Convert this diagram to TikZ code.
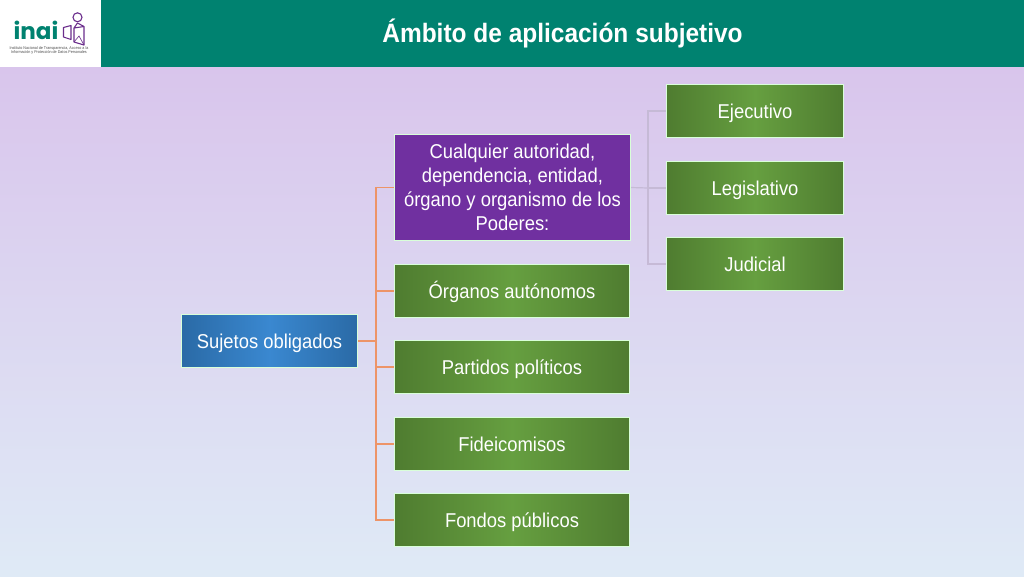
\documentclass[tikz,border=0pt]{standalone}
\usepackage{fontspec}
\setmainfont{Liberation Sans}[FakeStretch=0.92]
\newfontfamily\logofont{Poppins}
\definecolor{inaigreen}{HTML}{008270}
\definecolor{inaipurple}{HTML}{6B2D8C}
\definecolor{boxpurple}{HTML}{7030A0}
\definecolor{branchorange}{HTML}{ED9468}
\definecolor{branchgray}{HTML}{C6BAD6}
\definecolor{greenmid}{HTML}{669F40}
\definecolor{greenedge}{HTML}{4F7C30}
\definecolor{bluemid}{HTML}{3A88D0}
\definecolor{blueedge}{HTML}{2A6AA6}
\tikzset{
  box/.style = {draw=white!85!green, line width=1pt, minimum height=53pt, inner sep=0pt,
                text=white, align=center, font=\fontsize{20}{24}\selectfont},
  greenbox/.style = {box, minimum width=235pt, text height=18pt, text depth=4pt,
                     left color=greenedge, right color=greenedge, middle color=greenmid},
  greensmall/.style = {greenbox, minimum width=177pt},
  bluebox/.style = {box, minimum width=176pt, text height=18pt, text depth=4pt,
                    left color=blueedge, right color=blueedge, middle color=bluemid},
  purplebox/.style = {box, minimum width=236pt, minimum height=106pt, fill=boxpurple},
  orangeline/.style = {draw=branchorange, line width=1.2pt},
  grayline/.style = {draw=branchgray, line width=1.2pt},
}
\begin{document}
\begin{tikzpicture}[x=1pt,y=-1pt]
\useasboundingbox (0,0) rectangle (1024,576);
% background and title bar
\fill[top color={rgb,255:red,217;green,197;blue,236}, bottom color={rgb,255:red,223;green,234;blue,246}] (0,67) rectangle (1024,576);
\fill[inaigreen] (101,0) rectangle (1024,67);
\fill[white] (0,0) rectangle (101,67);
\node[text=white, font=\fontsize{26.6}{30}\bfseries\selectfont] (title) at (562.5,33.5) {Ámbito de aplicación subjetivo};
% logo
\node[text=inaigreen, font=\logofont\fontsize{23}{23}\bfseries\selectfont, inner sep=0pt] (inai) at (36,30) {inai};
\node[text=black!70, align=center, font=\fontsize{4}{4.4}\selectfont, inner sep=0pt] (inst) at (49,50.5) {Instituto Nacional de Transparencia, Acceso a la\\Información y Protección de Datos Personales};
\draw[inaipurple, line width=1.1pt] (77.5,17.3) circle (4.5);
\draw[inaipurple, line width=1.1pt, line join=round] (63.5,27.5) -- (71,25.5) -- (71,39.5) -- (63.5,37) -- cycle;
\draw[inaipurple, line width=1.1pt, line join=round] (74,28) -- (77.5,23) -- (84,26.5) -- (84,45) -- (74,42) -- cycle -- (84,26.5);
\draw[inaipurple, line width=.6pt] (74,42) -- (79,36) -- (84,45);
% boxes
\node[bluebox] (sujetos) at (269.5,341) {Sujetos obligados};
\node[purplebox] (autoridad) at (512.5,187.5) {Cualquier autoridad,\\dependencia, entidad,\\órgano y organismo de los\\Poderes:};
\node[greenbox] (organos) at (512,291) {Órganos autónomos};
\node[greenbox] (partidos) at (512,367) {Partidos políticos};
\node[greenbox] (fideicomisos) at (512,444) {Fideicomisos};
\node[greenbox] (fondos) at (512,520) {Fondos públicos};
\node[greensmall] (ejecutivo) at (755,111) {Ejecutivo};
\node[greensmall] (legislativo) at (755,188) {Legislativo};
\node[greensmall] (judicial) at (755,264) {Judicial};
% connectors
\coordinate (trunk) at (376,341);
\coordinate (fork) at (648,188);
\draw[orangeline] (sujetos.east) -- (trunk);
\foreach \target in {autoridad,organos,partidos,fideicomisos,fondos}
  \draw[orangeline] (trunk) |- (\target.west);
\draw[grayline] (autoridad.east) -- (fork);
\foreach \target in {ejecutivo,legislativo,judicial}
  \draw[grayline] (fork) |- (\target.west);
\end{tikzpicture}
\end{document}
